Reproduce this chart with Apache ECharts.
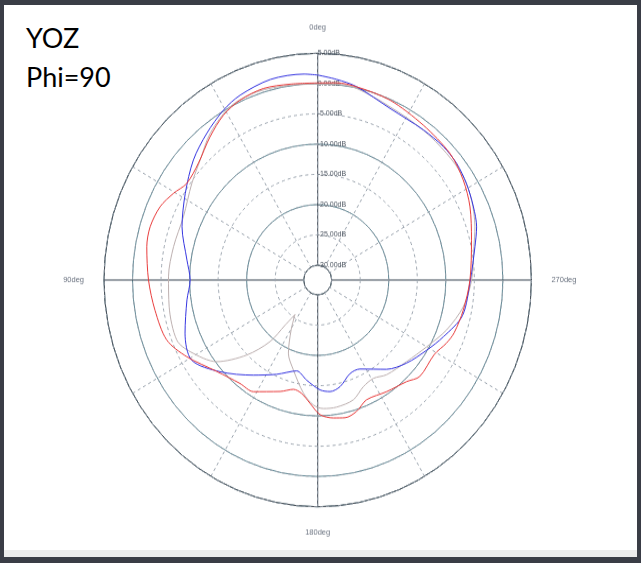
<!DOCTYPE html>
<html><head><meta charset="utf-8">
<script src="https://cdn.jsdelivr.net/npm/echarts@6/dist/echarts.min.js"></script>
<style>
html,body{margin:0;padding:0;width:641px;height:563px;overflow:hidden;background:#3a3d46;}
#page{position:absolute;left:4px;top:5px;width:633px;height:552px;background:#fff;}
#strip{position:absolute;left:4px;top:550px;width:633px;height:7px;background:#ececec;}
#title{position:absolute;left:26px;top:18px;font-family:Lato,'Open Sans',sans-serif;font-size:27px;line-height:39px;color:#000;}
#chart{position:absolute;left:0;top:0;width:641px;height:563px;transform:scaleY(1.061);transform-origin:317.7px 280px;}
</style></head><body>
<div id="page"></div><div id="strip"></div>
<div id="title">YOZ<br>Phi=90</div>
<div id="chart"></div>
<script>
// angle (deg, counter-clockwise from top) and gain (dB)
const blueAng = [0,4,14,24,30.5,38.8,47.7,58.4,69.7,81.8,90,98.2,110.7,120.9,131.5,144.3,155.2,166.2,173.3,181.3,186.7,192.5,200.2,206.7,219.3,228.6,238.8,247,257,270,281.3,287.5,293.9,301.4,308.4,315,323.2,335.9,347.9,354.3,360];
const blueDb  = [1.4,1.65,1.7,0.97,0.1,-1.4,-3.0,-5.2,-7.1,-9.3,-10.1,-9.3,-7.6,-6.7,-9.6,-13.1,-15.3,-17.0,-15.8,-14.3,-13.9,-14.4,-16.0,-16.0,-13.4,-11.7,-10.1,-8.5,-6.4,-5.7,-4.35,-3.25,-2.6,-1.9,-1.4,-1.3,-1.5,-1.4,0.2,0.85,1.4];

const redAng = [0,8.5,16.7,24.6,31.2,38.6,47.3,55.2,60.5,66.3,73.3,79.6,90,99.9,110.5,118.9,130.5,141.4,148.6,160.3,166.7,171.5,176.2,181.1,186.9,191.9,197.4,203.4,213.3,222.9,228.3,239,245.2,250,259,270,283.8,294.4,302.9,312,324.1,336.9,347.9,354.2,360];
const redDb  = [0.1,0.26,0.58,0.23,-0.6,-2.2,-4.0,-4.5,-3.4,-2.3,-1.8,-2.0,-2.8,-3.5,-4.2,-6.25,-9.2,-10.6,-10.85,-12.9,-13.9,-13.5,-12.05,-10.2,-9.5,-9.2,-9.7,-10.9,-10.4,-9.55,-8.5,-8.6,-7.6,-7.0,-6.46,-5.77,-4.7,-3.15,-2.07,-1.24,-0.88,-0.15,0.18,0.29,0.1];

const grayAng = [0,8.6,19,28.2,37.9,46.1,54.1,66,77.7,88.8,99.6,111.9,117.9,127.3,134.9,140.6,142.5,145,150.5,157,164,172.4,177.9,182.7,189,197.5,204.4,211,217.6,229.1,240,250,260.2,270,281.4,287.7,296.1,303.8,312.8,323.2,336.1,347.8,354.1,360];
const grayDb  = [-0.1,0.1,0.41,0.02,-1.77,-3.87,-5.22,-6.7,-6.6,-6.3,-6.05,-5.84,-7.16,-10.2,-14.9,-19.3,-23.0,-25.5,-23.0,-19.3,-17.0,-13.6,-11.8,-11.2,-11.2,-11.7,-13.1,-13.5,-12.7,-11.85,-10.4,-8.4,-6.56,-5.48,-4.52,-3.53,-2.42,-1.76,-1.67,-1.54,-1.16,-0.08,0.07,-0.1];

const radiusTicks = {min:-30, max:5, minor:5, major:10};
const angleTicks = {minor:30, major:90};

function pairs(ang, db){ return ang.map((a,i)=>[db[i], a]); }

const chart = echarts.init(document.getElementById('chart'));
const center = [317.7, 280];
const radius = [14, 213.7];
const lineSeries = (name, ang, db, color) => ({
  name, type:'line', coordinateSystem:'polar', polarIndex:0,
  data: pairs(ang, db), showSymbol:false, smooth:0.3,
  lineStyle:{color, width:1}, z:5
});
chart.setOption({
  animation:false,
  polar:[{center, radius},{center, radius}],
  angleAxis:[
    {polarIndex:0, type:'value', min:0, max:360, interval:angleTicks.minor, startAngle:90, clockwise:false, z:3,
     axisLine:{show:true, lineStyle:{color:'#4a4f57', width:1}},
     axisTick:{show:false},
     axisLabel:{formatter:v => (v % angleTicks.major === 0 && v < 360) ? v + 'deg' : '', fontSize:7.5, color:'#6b7380', margin:20, fontFamily:'Liberation Sans'},
     splitLine:{show:true, lineStyle:{color:'#9ba4ae', type:[3,3], width:1}}},
    {polarIndex:1, type:'value', min:0, max:360, interval:angleTicks.major, startAngle:90, clockwise:false, z:2,
     axisLine:{show:false}, axisTick:{show:false}, axisLabel:{show:false},
     splitLine:{show:true, lineStyle:{color:'#3d4650', width:1}}}
  ],
  radiusAxis:[
    {polarIndex:0, type:'value', min:radiusTicks.min, max:radiusTicks.max, interval:radiusTicks.minor, z:4,
     axisLine:{show:false}, axisTick:{show:false},
     axisLabel:{formatter:v => v.toFixed(2) + 'dB', fontSize:7, color:'#4d5560', margin:0, align:'left', fontFamily:'Liberation Sans'},
     splitLine:{show:true, lineStyle:{color:'#9ba4ae', type:[3,3], width:1}}},
    {polarIndex:1, type:'value', min:radiusTicks.min, max:radiusTicks.max, interval:radiusTicks.major, z:2,
     axisLine:{show:false}, axisTick:{show:false}, axisLabel:{show:false},
     splitLine:{show:true, lineStyle:{color:'#5e8794', width:1}}}
  ],
  series:[
    lineSeries('gray', grayAng, grayDb, '#bdb0b0'),
    lineSeries('blue', blueAng, blueDb, '#3535e0'),
    lineSeries('red', redAng, redDb, '#e83c3c')
  ]
});
</script>
</body></html>
